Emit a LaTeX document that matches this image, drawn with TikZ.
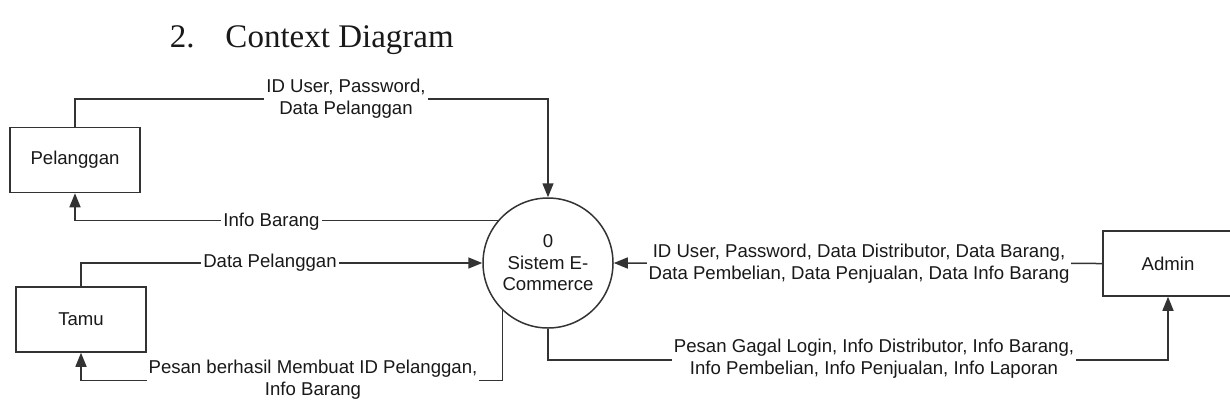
\documentclass[tikz,border=0pt]{standalone}
\usepackage{fontspec}
\setmainfont{Liberation Sans}
\newfontfamily\titlefont{Liberation Serif}
\usetikzlibrary{arrows.meta}
\begin{document}
\begin{tikzpicture}
		[x=1pt, y=-1pt, line width=1.5pt, draw=black!80, text=black!90,
		entity/.style={draw,rectangle,minimum width=130pt,minimum height=65pt,font=\fontsize{18.6}{21.5}\selectfont},
		process/.style={draw,circle,minimum size=130pt,inner sep=0pt,align=center,font=\fontsize{18.6}{21.5}\selectfont},
		flow/.style={-{Triangle[length=14pt,width=11pt]}},
		flowtext/.style={fill=white,inner sep=2pt,align=center,font=\fontsize{18.6}{22}\selectfont}]
		\useasboundingbox (0,0) rectangle (1230,410);

		% Title
		\node[anchor=base west,inner sep=0pt,font=\titlefont\fontsize{33}{36}\selectfont] (title) at (169,47) {2.\hspace{31pt}Context Diagram};

		% Process and external entities
		\node [process] (sistem) at (548,263) {0\\Sistem E-\\Commerce};
		\node [entity] (pelanggan) at (75,160) {Pelanggan};
		\node [entity] (tamu) at (81,319.5) {Tamu};
		\node [entity] (admin) at (1168,263.5) {Admin};

		% Pelanggan flows
		\draw[flow] (pelanggan.north) -- ++(0,-28) -| (sistem.north);
		\node[flowtext] (pelin) at (346,99) {ID User, Password,\\Data Pelanggan};
		\draw[flow] (sistem.140.6) -| (pelanggan.south);
		\node[flowtext] (pelout) at (271.5,221.7) {Info Barang};

		% Tamu flows
		\draw[flow] (tamu.north) |- (sistem.west);
		\node[flowtext] (tamuin) at (270,263) {Data Pelanggan};
		\draw[flow] (sistem.226) -- ++(0,70) -| (tamu.south);
		\node[flowtext] (tamuout) at (313,380) {Pesan berhasil Membuat ID Pelanggan,\\Info Barang};

		% Admin flows
		\draw[flow] (admin.west) -- (sistem.east);
		\node[flowtext] (adminin) at (859,264) {ID User, Password, Data Distributor, Data Barang,\\Data Pembelian, Data Penjualan, Data Info Barang};
		\draw[flow] (sistem.south) -- ++(0,31) -| (admin.south);
		\node[flowtext] (adminout) at (874,359) {Pesan Gagal Login, Info Distributor, Info Barang,\\Info Pembelian, Info Penjualan, Info Laporan};
	\end{tikzpicture}
\end{document}
